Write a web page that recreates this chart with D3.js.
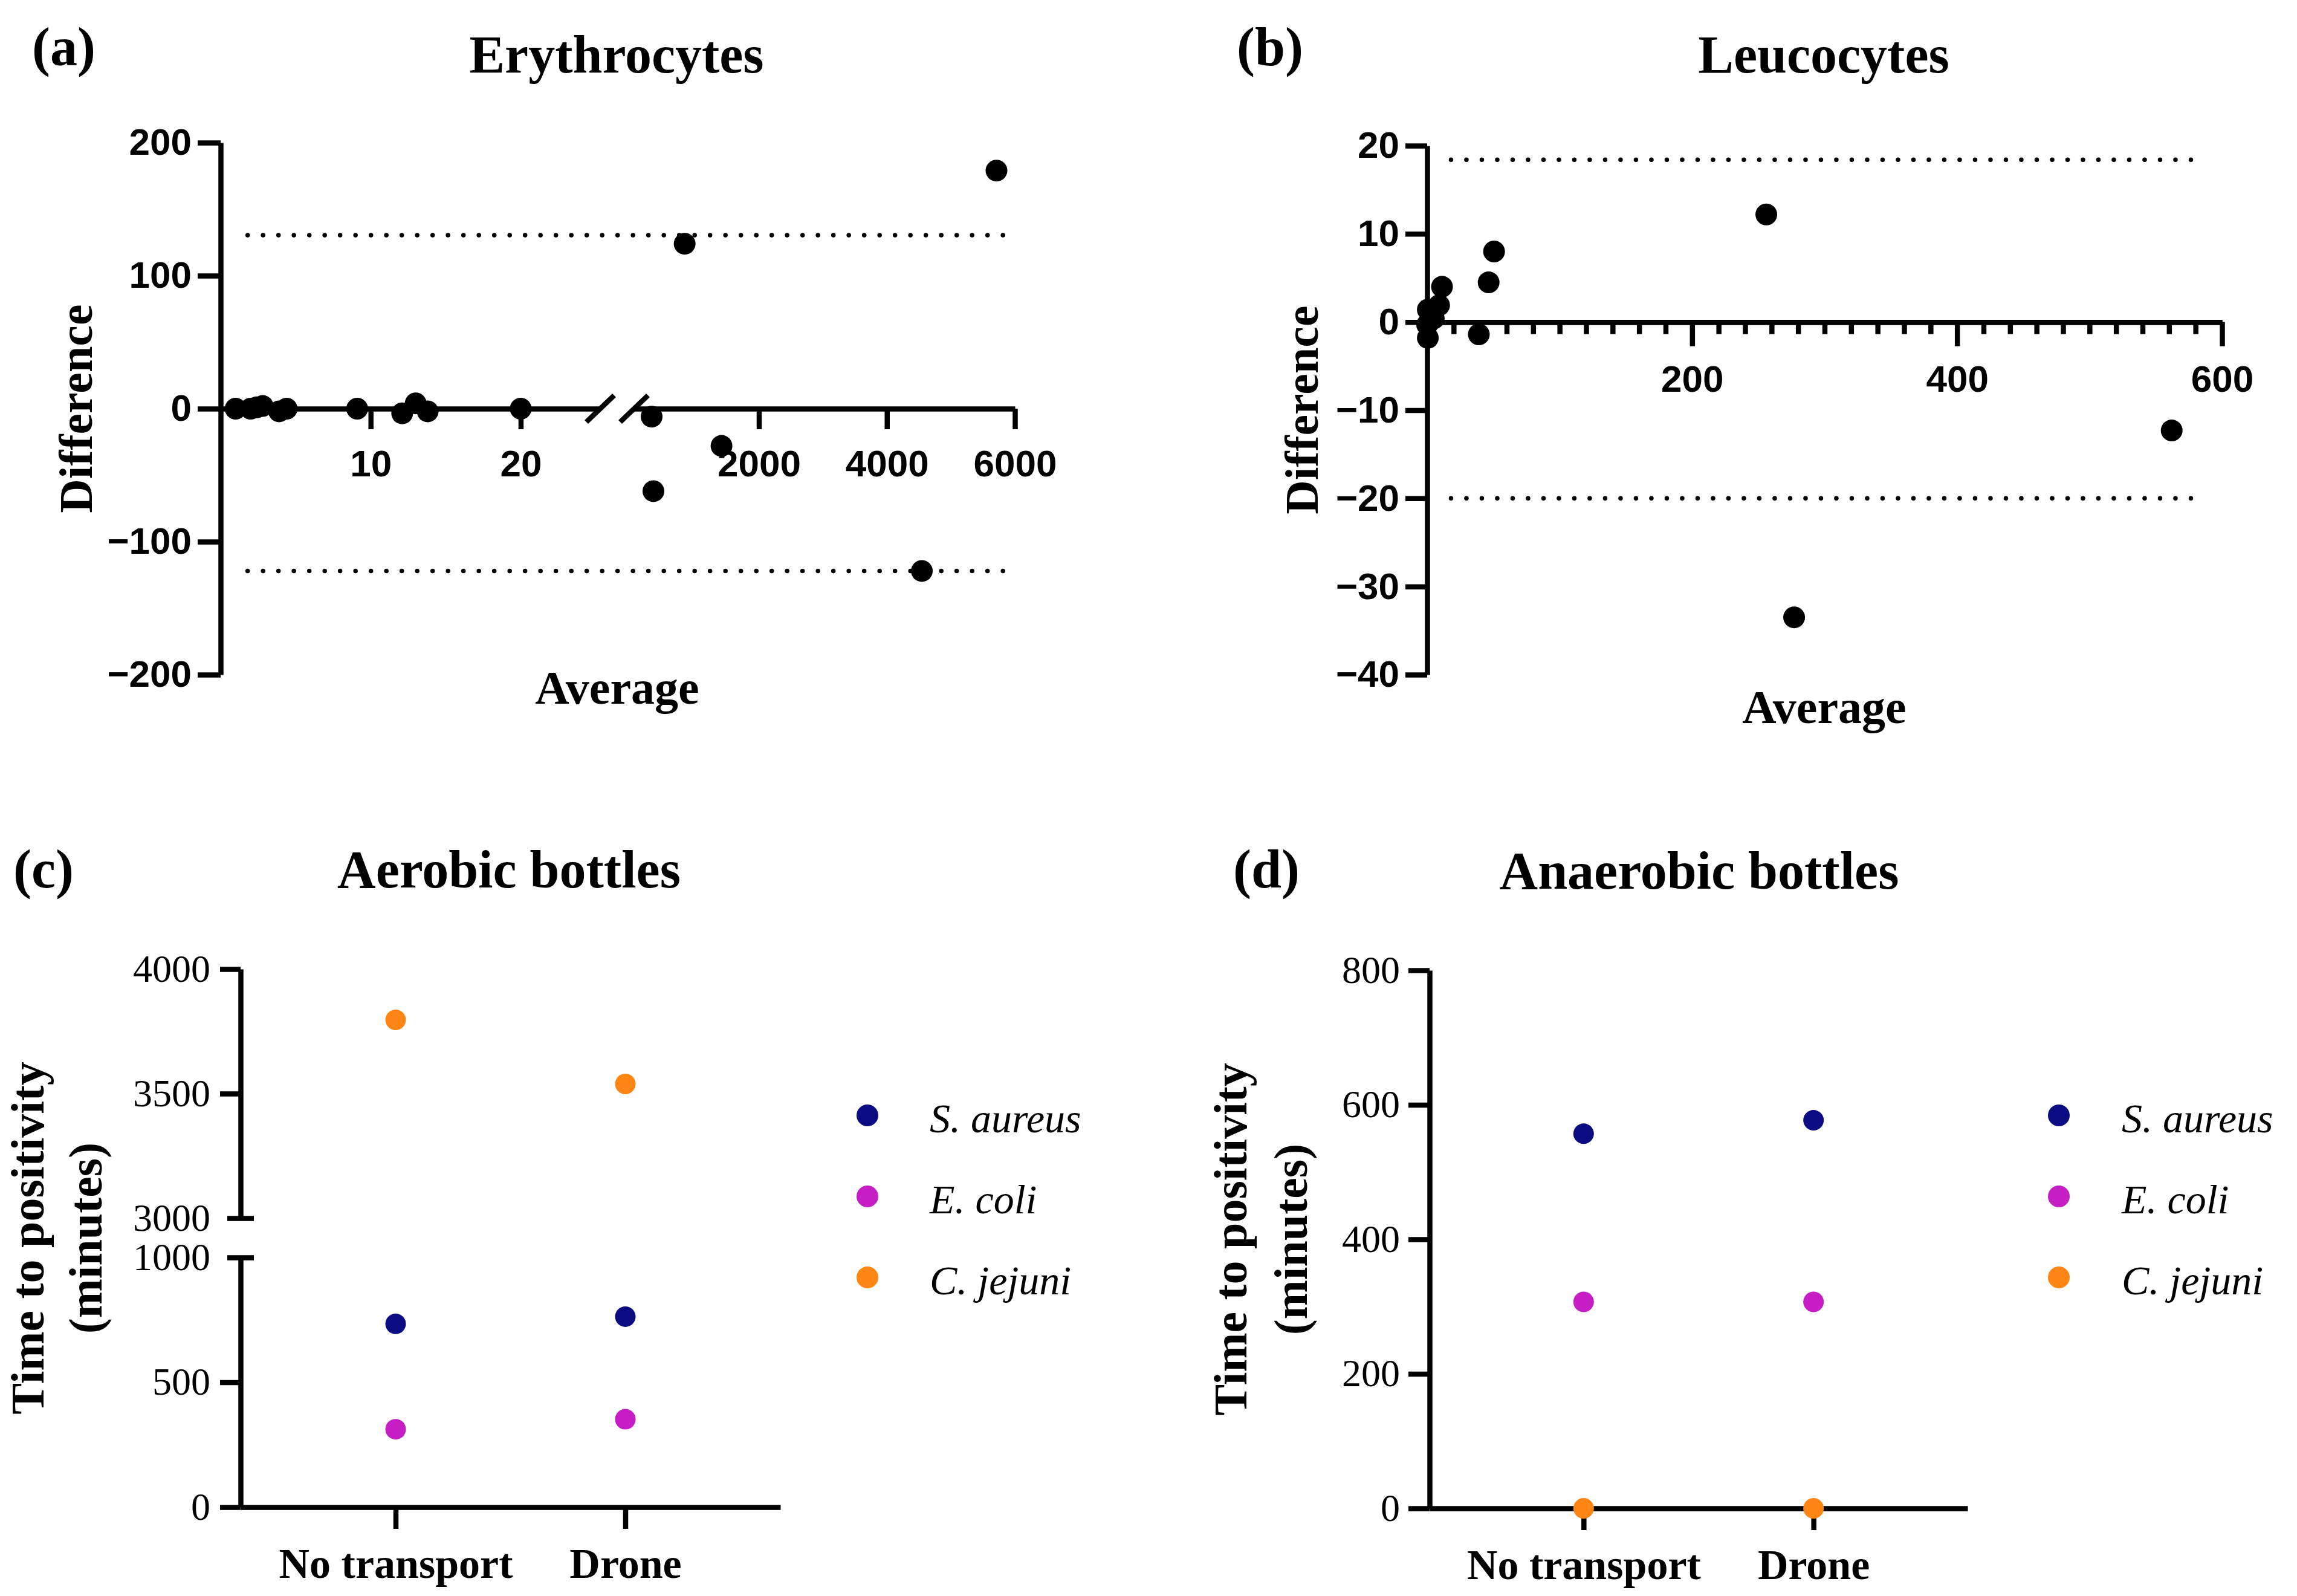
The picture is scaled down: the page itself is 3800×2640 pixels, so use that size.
<!DOCTYPE html>
<html>
<head>
<meta charset="utf-8">
<script src="https://cdn.jsdelivr.net/npm/d3@7"></script>
<style>
  body { margin: 0; background: #fff; }
</style>
</head>
<body>
<svg id="fig" width="3800" height="2640"></svg>
<script>
// (a) Erythrocytes - Bland-Altman, x axis is broken in two
const eryAvgLow = [1.0, 2.0, 2.4, 2.8, 3.9, 4.4, 9.1, 12.1, 13.0, 13.8, 20.0];
const eryDiffLow = [0, 0, 1, 2, -2, 0, 0, -3.5, 4, -2, 0];
const eryAvgHigh = [324, 352, 840, 1416, 4546, 5712];
const eryDiffHigh = [-6, -62, 124, -28, -122, 179];
const eryLimits = [130.5, -122];
const eryYTicks = [-200, -100, 0, 100, 200];
const eryXTicksLow = [10, 20];
const eryXTicksHigh = [2000, 4000, 6000];

// (b) Leucocytes
const leuAvg = [0.5, 0, 0.5, 3.6, 5, 9, 11.2, 39, 46.4, 50.5, 256, 277, 562];
const leuDiff = [-1.8, -0.3, 1.4, 0.9, 0.4, 1.9, 4.0, -1.4, 4.5, 8.0, 12.2, -33.5, -12.3];
const leuLimits = [18.4, -20.0];
const leuYTicks = [-40, -30, -20, -10, 0, 10, 20];
const leuXTicks = [200, 400, 600];

// (c) / (d) time to positivity
const transport = ["No transport", "Drone"];
const species = ["S. aureus", "E. coli", "C. jejuni"];
const speciesColor = ["#0b0b82", "#c41ec4", "#ff8614"];
const aerobic = [
  [734, 763],    // S. aureus
  [312, 352],    // E. coli
  [3796, 3539]   // C. jejuni
];
const anaerobic = [
  [557, 577],
  [307, 307],
  [0, 0]
];
const aeroTicksLow = [0, 500, 1000];
const aeroTicksHigh = [3000, 3500, 4000];
const anaeroTicks = [0, 200, 400, 600, 800];

const svg = d3.select("#fig");
svg.append("rect").attr("width", 3800).attr("height", 2640).attr("fill", "#fff");

const SANS = "'Liberation Sans', Arial, sans-serif";
const SERIF = "'Liberation Serif', 'Times New Roman', serif";
const AXW = 8.5;
const DOT = 18;
const plain = d3.format("d");
const signed = d => d < 0 ? "\u2212" + Math.abs(d) : d;

function styleAxis(g, font, size, weight) {
  g.attr("font-family", font).attr("font-size", size).attr("font-weight", weight);
  g.selectAll("path.domain").attr("stroke", "#000").attr("stroke-width", AXW);
  g.selectAll(".tick line").attr("stroke", "#000").attr("stroke-width", AXW);
  g.selectAll(".tick text").attr("fill", "#000");
}

function label(txt, x, y, size, opts) {
  opts = opts || {};
  const t = svg.append("text")
    .attr("x", x).attr("y", y)
    .attr("font-family", opts.family || SERIF)
    .attr("font-size", size)
    .attr("font-weight", opts.weight || "bold")
    .attr("font-style", opts.style || "normal")
    .attr("text-anchor", opts.anchor || "middle")
    .attr("fill", "#000")
    .text(txt);
  if (opts.rotate) t.attr("transform", `rotate(-90,${x},${y})`);
  return t;
}

function dotted(x1, x2, y) {
  svg.append("line")
    .attr("x1", x1).attr("x2", x2).attr("y1", y).attr("y2", y)
    .attr("stroke", "#000").attr("stroke-width", 7.5)
    .attr("stroke-linecap", "round")
    .attr("stroke-dasharray", "0,25.5");
}

// ---------- (a) ----------
const yA = d3.scaleLinear().domain([-200, 200]).range([1116, 236]);
const xA1 = d3.scaleLinear().domain([0, 25.3]).range([365, 993]);
const xA2 = d3.scaleLinear().domain([50, 6000]).range([1049, 1679]);
const zeroA = yA(0);

svg.append("g").attr("transform", "translate(365,0)")
  .call(d3.axisLeft(yA).tickValues(eryYTicks).tickSize(38).tickSizeOuter(0).tickPadding(10)
    .tickFormat(signed))
  .call(styleAxis, SANS, 62, "bold");

svg.append("g").attr("transform", `translate(0,${zeroA})`)
  .call(d3.axisBottom(xA1).tickValues(eryXTicksLow).tickSize(34).tickSizeOuter(0).tickPadding(34))
  .call(styleAxis, SANS, 62, "bold");

svg.append("g").attr("transform", `translate(0,${zeroA})`)
  .call(d3.axisBottom(xA2).tickValues(eryXTicksHigh).tickSize(34).tickSizeOuter(0).tickPadding(34)
    .tickFormat(plain))
  .call(styleAxis, SANS, 62, "bold");

// break marks
[xA1.range()[1], xA2.range()[0]].forEach(bx => {
  svg.append("line")
    .attr("x1", bx - 23).attr("y1", zeroA + 22)
    .attr("x2", bx + 23).attr("y2", zeroA - 22)
    .attr("stroke", "#000").attr("stroke-width", AXW);
});

eryLimits.forEach(v => dotted(xA1(1.8), xA2(5850), yA(v)));

svg.append("g").selectAll("circle")
  .data(eryAvgLow)
  .join("circle")
  .attr("cx", d => xA1(d))
  .attr("cy", (d, i) => yA(eryDiffLow[i]))
  .attr("r", DOT)
  .attr("fill", "#000");

svg.append("g").selectAll("circle")
  .data(eryAvgHigh)
  .join("circle")
  .attr("cx", d => xA2(d))
  .attr("cy", (d, i) => yA(eryDiffHigh[i]))
  .attr("r", DOT)
  .attr("fill", "#000");

label("(a)", 53, 108, 90, { anchor: "start" });
label("Erythrocytes", 1020, 120, 88);
label("Difference", 152, 676, 78, { rotate: true });
label("Average", 1021, 1164, 78);

// ---------- (b) ----------
const yB = d3.scaleLinear().domain([-40, 20]).range([1116, 241]);
const xB = d3.scaleLinear().domain([0, 600]).range([2361, 3676]);
const zeroB = yB(0);

svg.append("g").attr("transform", "translate(2361,0)")
  .call(d3.axisLeft(yB).tickValues(leuYTicks).tickSize(36).tickSizeOuter(0).tickPadding(10)
    .tickFormat(signed))
  .call(styleAxis, SANS, 62, "bold");

svg.append("g").attr("transform", `translate(0,${zeroB})`)
  .call(d3.axisBottom(xB).tickValues(d3.range(20, 600, 20).filter(v => v % 200 !== 0))
    .tickSize(20).tickSizeOuter(0).tickFormat(""))
  .call(styleAxis, SANS, 62, "bold");

svg.append("g").attr("transform", `translate(0,${zeroB})`)
  .call(d3.axisBottom(xB).tickValues(leuXTicks).tickSize(40).tickSizeOuter(0).tickPadding(31))
  .call(styleAxis, SANS, 62, "bold");

leuLimits.forEach(v => dotted(xB(18), xB(588), yB(v)));

svg.append("g").selectAll("circle")
  .data(leuAvg)
  .join("circle")
  .attr("cx", d => xB(d))
  .attr("cy", (d, i) => yB(leuDiff[i]))
  .attr("r", DOT)
  .attr("fill", "#000");

label("(b)", 2046, 108, 90, { anchor: "start" });
label("Leucocytes", 3017, 120, 88);
label("Difference", 2180, 678, 78, { rotate: true });
label("Average", 3018, 1196, 78);

// ---------- (c) / (d) shared drawing ----------
function categoryAxis(x, y0) {
  const g = svg.append("g").attr("transform", `translate(0,${y0})`)
    .call(d3.axisBottom(x).tickSize(36).tickSizeOuter(0).tickPadding(31))
    .call(styleAxis, SERIF, 70, "bold");
  g.selectAll(".tick text").attr("dy", "0.71em");
}

function legend(cx, tx) {
  const rows = [1845, 1979, 2113];
  species.forEach((s, i) => {
    svg.append("circle").attr("cx", cx).attr("cy", rows[i]).attr("r", DOT)
      .attr("fill", speciesColor[i]);
    label(s, tx, rows[i] + 28, 68, { anchor: "start", weight: "normal", style: "italic" });
  });
}

// ---------- (c) ----------
const xC = d3.scalePoint().domain(transport).range([398, 1291]).padding(0.675);
const yCLow = d3.scaleLinear().domain([0, 1000]).range([2493, 2080]);
const yCHigh = d3.scaleLinear().domain([3000, 4000]).range([2015, 1603]);

[yCLow, yCHigh].forEach((sc, k) => {
  const g = svg.append("g").attr("transform", "translate(398,0)")
    .call(d3.axisLeft(sc).tickValues(k === 0 ? aeroTicksLow : aeroTicksHigh)
      .tickSize(34).tickSizeOuter(0).tickPadding(16).tickFormat(plain))
    .call(styleAxis, SERIF, 64, "normal");
  // break bars sit on both sides of the axis
  g.selectAll(".tick").filter(d => d === 1000 || d === 3000)
    .select("line").attr("x1", 22).attr("x2", -22);
});
categoryAxis(xC, yCLow(0));

species.forEach((s, i) => {
  svg.append("g").selectAll("circle")
    .data(aerobic[i])
    .join("circle")
    .attr("cx", (d, j) => xC(transport[j]))
    .attr("cy", d => d >= 3000 ? yCHigh(d) : yCLow(d))
    .attr("r", DOT - 1)
    .attr("fill", speciesColor[i]);
});
legend(1435, 1538);

label("(c)", 22, 1468, 90, { anchor: "start" });
label("Aerobic bottles", 842, 1468, 88);
label("Time to positivity", 72, 2048, 78, { rotate: true });
label("(minutes)", 168, 2048, 78, { rotate: true });

// ---------- (d) ----------
const xD = d3.scalePoint().domain(transport).range([2365, 3255]).padding(0.67);
const yD = d3.scaleLinear().domain([0, 800]).range([2495, 1605]);

svg.append("g").attr("transform", "translate(2365,0)")
  .call(d3.axisLeft(yD).tickValues(anaeroTicks).tickSize(35).tickSizeOuter(0).tickPadding(14))
  .call(styleAxis, SERIF, 64, "normal");
categoryAxis(xD, yD(0));

species.forEach((s, i) => {
  svg.append("g").selectAll("circle")
    .data(anaerobic[i])
    .join("circle")
    .attr("cx", (d, j) => xD(transport[j]))
    .attr("cy", d => yD(d))
    .attr("r", DOT - 1)
    .attr("fill", speciesColor[i]);
});
legend(3406, 3510);

label("(d)", 2040, 1468, 90, { anchor: "start" });
label("Anaerobic bottles", 2811, 1470, 88);
label("Time to positivity", 2062, 2050, 78, { rotate: true });
label("(minutes)", 2162, 2050, 78, { rotate: true });
</script>
</body>
</html>
